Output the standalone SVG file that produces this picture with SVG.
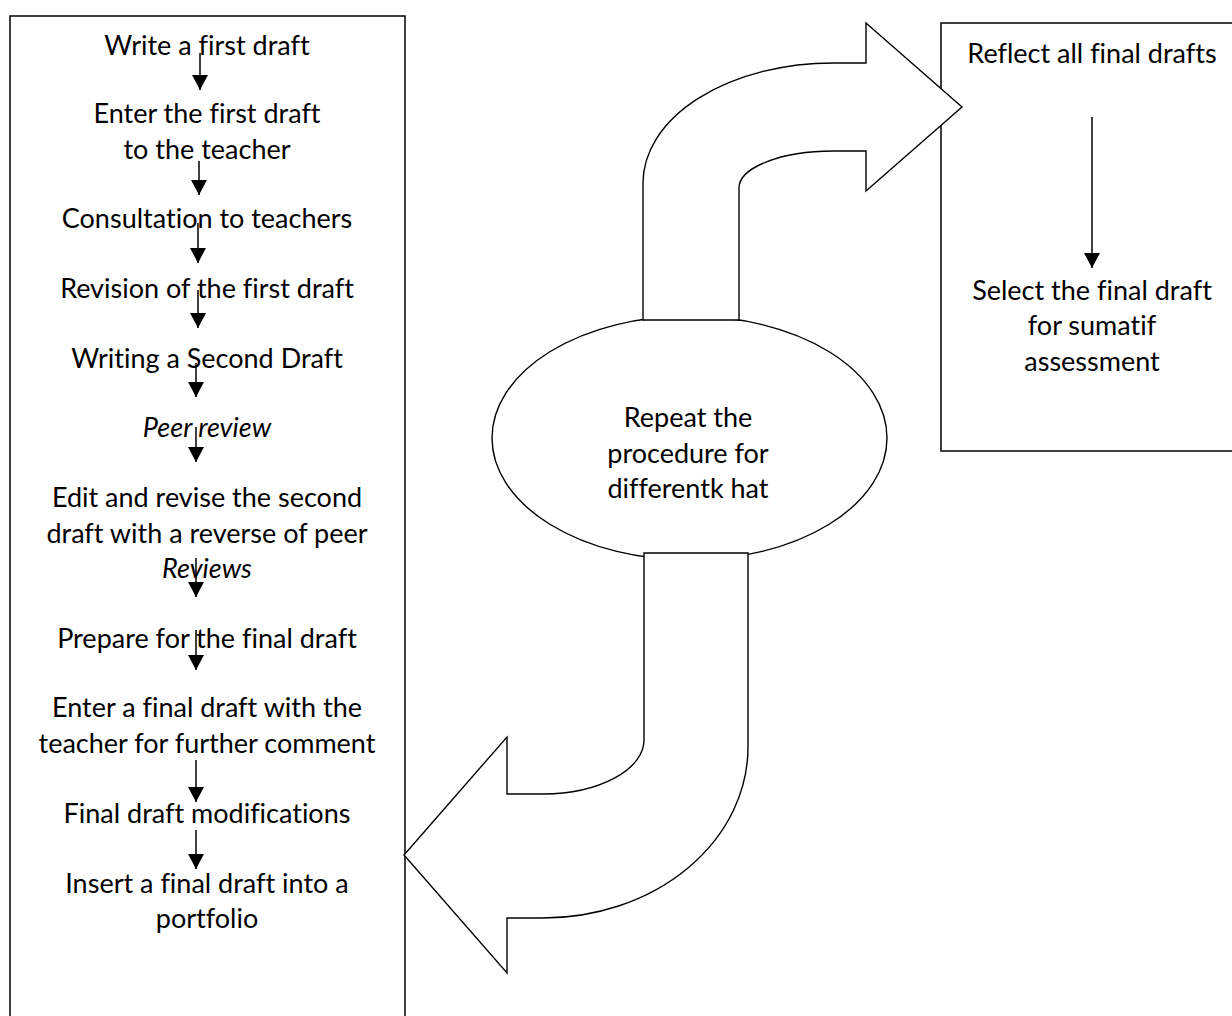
<svg xmlns="http://www.w3.org/2000/svg" width="1232" height="1016" viewBox="0 0 1232 1016">
<style>
  .t { font-family: Lato, "Liberation Sans", sans-serif; font-size: 27px; fill: #000; text-anchor: middle; font-variant-ligatures: none; }
  .i { font-style: italic; }
  .box { fill: #fff; stroke: #000; stroke-width: 1.5; }
  .shape { fill: #fff; stroke: #000; stroke-width: 1.4; }
  .conn { stroke: #000; stroke-width: 1.5; fill: none; marker-end: url(#ah); }
</style>
<defs>
  <marker id="ah" markerUnits="userSpaceOnUse" markerWidth="17" markerHeight="17" refX="15" refY="8" orient="auto">
    <path d="M0,0 L15,8 L0,16 z" fill="#000"/>
  </marker>
</defs>
<rect width="1232" height="1016" fill="#fff"/>

<g id="left-box">
  <rect class="box" x="10" y="16" width="395" height="1020"/>
  <text class="t" x="207" y="55">Write a first draft</text>
  <text class="t" x="207" y="123">Enter the first draft</text>
  <text class="t" x="207" y="159">to the teacher</text>
  <text class="t" x="207" y="228">Consultation to teachers</text>
  <text class="t" x="207" y="298">Revision of the first draft</text>
  <text class="t" x="207" y="368">Writing a Second Draft</text>
  <text class="t i" x="207" y="437">Peer review</text>
  <text class="t" x="207" y="507">Edit and revise the second</text>
  <text class="t" x="207" y="543">draft with a reverse of peer</text>
  <text class="t i" x="207" y="578">Reviews</text>
  <text class="t" x="207" y="648">Prepare for the final draft</text>
  <text class="t" x="207" y="717">Enter a final draft with the</text>
  <text class="t" x="207" y="753">teacher for further comment</text>
  <text class="t" x="207" y="823">Final draft modifications</text>
  <text class="t" x="207" y="893">Insert a final draft into a</text>
  <text class="t" x="207" y="928">portfolio</text>
</g>

<g id="right-box">
  <rect class="box" x="941" y="23" width="300" height="428"/>
  <text class="t" x="1092" y="63">Reflect all final drafts</text>
  <text class="t" x="1092" y="300">Select the final draft</text>
  <text class="t" x="1092" y="335">for sumatif</text>
  <text class="t" x="1092" y="371">assessment</text>
</g>

<g id="repeat-ellipse">
  <ellipse class="shape" cx="689.5" cy="438" rx="197.5" ry="122"/>
  <text class="t" x="688" y="427">Repeat the</text>
  <text class="t" x="688" y="463">procedure for</text>
  <text class="t" x="688" y="498">differentk hat</text>
</g>

<g id="connectors">
  <path id="curved-arrow-up" class="shape" d="M643,320 L643,183 A190,120 0 0 1 833,63 L866,63 L866,23 L962,107 L866,191 L866,151 L833,151 A94,37 0 0 0 739,188 L739,320 Z"/>
  <path id="curved-arrow-down" class="shape" d="M644,553 L748,553 L748,747 A205,171 0 0 1 543,918 L507,918 L507,973 L404,855 L507,737 L507,794 L543,794 A101,54 0 0 0 644,740 Z"/>
  <line class="conn" x1="200" y1="53" x2="200" y2="90"/>
  <line class="conn" x1="199" y1="161" x2="199" y2="195"/>
  <line class="conn" x1="198" y1="223" x2="198" y2="263"/>
  <line class="conn" x1="198" y1="290" x2="198" y2="328"/>
  <line class="conn" x1="196" y1="363" x2="196" y2="397"/>
  <line class="conn" x1="196" y1="427" x2="196" y2="462"/>
  <line class="conn" x1="196" y1="558" x2="196" y2="597"/>
  <line class="conn" x1="196" y1="630" x2="196" y2="670"/>
  <line class="conn" x1="196" y1="760" x2="196" y2="802"/>
  <line class="conn" x1="196" y1="830" x2="196" y2="869"/>
  <line class="conn" x1="1092" y1="117" x2="1092" y2="268"/>
</g>
</svg>
